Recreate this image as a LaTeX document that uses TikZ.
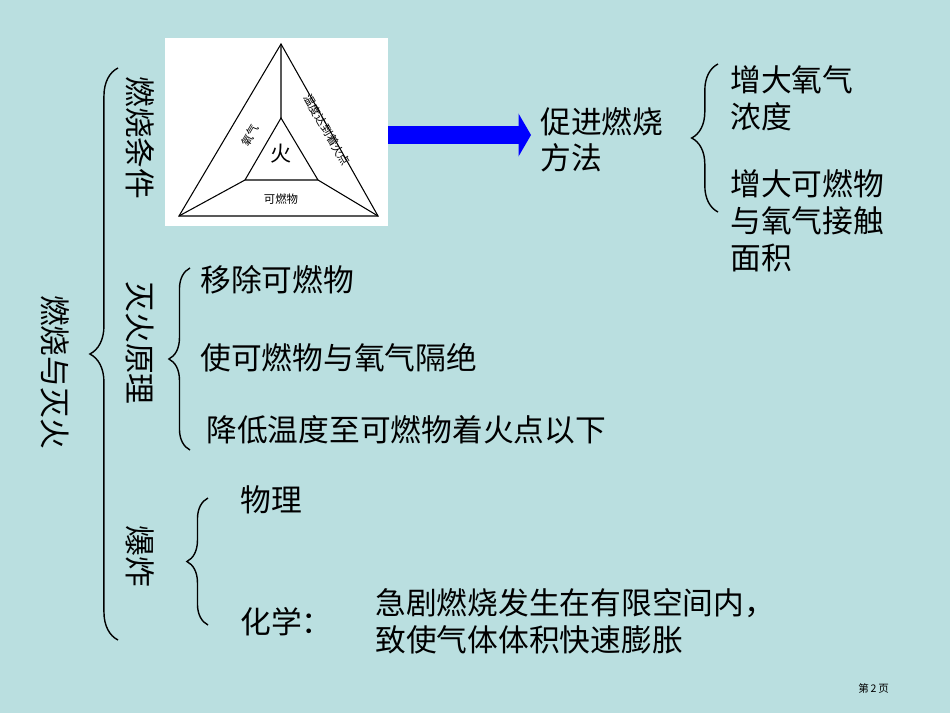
\documentclass[tikz,border=0pt]{standalone}
\usepackage{fontspec}
\setmainfont{Noto Sans CJK SC}
\usetikzlibrary{positioning,decorations.pathreplacing,arrows.meta}
\definecolor{bgteal}{HTML}{BADFE0}
\tikzset{
    txt/.style={anchor=west, inner sep=0pt, font=\fontsize{17.5}{20}\selectfont},
    vtxt/.style={rotate=-90, inner sep=0pt, font=\fontsize{17.5}{20}\selectfont},
    bracel/.style={decorate, decoration={brace, amplitude=#1}, thick},
    tritxt/.style={inner sep=0pt, font=\fontsize{6.5}{7}\selectfont},
}
\begin{document}
\begin{tikzpicture}[x=0.02cm, y=-0.02cm]
\fill[bgteal] (0,0) rectangle (950,713);
\useasboundingbox (0,0) rectangle (950,713);
% triangle picture
\node (pic) [fill=white, minimum width=4.46cm, minimum height=3.76cm, inner sep=0pt] at (276.5,132) {};
\coordinate (ta) at (281,44);
\coordinate (tb) at (179,216);
\coordinate (tc) at (378,216);
\coordinate (ia) at (281,118);
\coordinate (ib) at (245,180);
\coordinate (ic) at (318,180);
\draw[semithick] (ta) -- (tb) -- (tc) -- cycle;
\draw[semithick] (ia) -- (ib) -- (ic) -- cycle;
\draw[semithick] (ta) -- (ia) (tb) -- (ib) (tc) -- (ic);
\node (fire) [inner sep=0pt, font=\fontsize{12}{14}\selectfont] at (281,154) {火};
\node (oxy) [tritxt, rotate=60] at (250,135) {氧气};
\node (temp) [tritxt, rotate=-60] at (327,130) {温度达到着火点};
\node (fuel) [tritxt] at (281,199) {可燃物};
% arrow
\node (promo) [txt] at (540,122) {促进燃烧};
\node (promo2) [txt] at (540,158) {方法};
\draw[blue, line width=0.36cm, -{Triangle[width=0.85cm, length=0.25cm]}] (pic.east |- 0,135) -- (531,135);
% right branch
\draw[bracel=15pt] (718,212) -- (718,64);
\node (r1) [txt] at (730,80) {增大氧气};
\node (r1b) [txt] at (730,117) {浓度};
\node (r2) [txt] at (730,184) {增大可燃物};
\node (r2b) [txt] at (730,221) {与氧气接触};
\node (r2c) [txt] at (730,258) {面积};
% main brace
\draw[bracel=16pt] (118,640) -- (118,68);
\node (main) [vtxt] at (55,372) {燃烧与灭火};
\node (cond) [vtxt] at (140,138) {燃烧条件};
\node (ext) [vtxt] at (140,343) {灭火原理};
\node (boom) [vtxt] at (140,556) {爆炸};
% extinguishing
\draw[bracel=12pt] (190,450) -- (190,268);
\node (e1) [txt] at (200,280) {移除可燃物};
\node (e2) [txt] at (200,358) {使可燃物与氧气隔绝};
\node (e3) [txt] at (206,430) {降低温度至可燃物着火点以下};
% explosion
\draw[bracel=12pt] (208,625) -- (208,498);
\node (x1) [txt] at (240,500) {物理};
\node (x2) [txt] at (240,622) {化学：};
\node (x3) [txt] at (375,603) {急剧燃烧发生在有限空间内，};
\node (x4) [txt] at (375,640) {致使气体体积快速膨胀};
\node (page) [anchor=west, inner sep=0pt, font=\fontsize{6}{7}\selectfont] at (858,688) {第\,2\,页};
\end{tikzpicture}
\end{document}
